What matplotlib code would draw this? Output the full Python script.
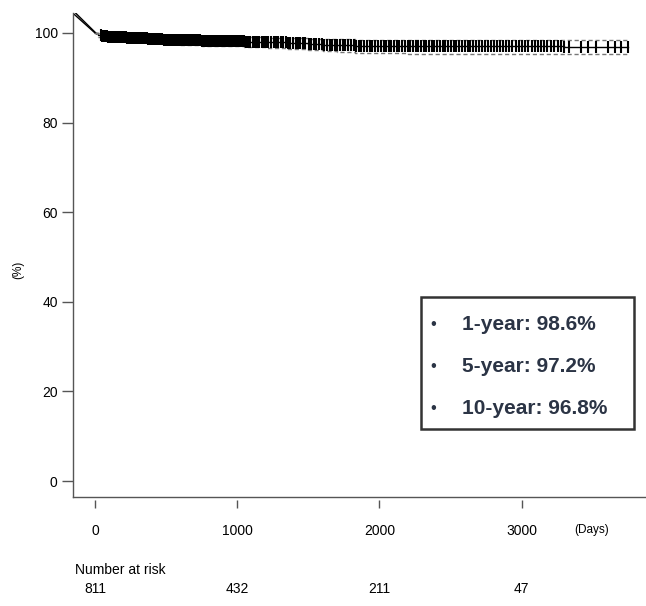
import numpy as np
import matplotlib
matplotlib.use("Agg")
import matplotlib.pyplot as plt
from matplotlib.patches import Rectangle
import matplotlib.transforms as mtransforms

plt.rcParams["font.family"] = ["Liberation Sans", "DejaVu Sans"]

# ── Data ──────────────────────────────────
# Kaplan-Meier estimate (days, %)
km_t = [0, 20, 45, 90, 150, 220, 300, 365, 480, 600, 750, 900, 1050, 1200, 1350,
        1500, 1600, 1700, 1825, 2200, 2600, 3300, 3750]
km_s = [100, 99.6, 99.3, 99.2, 99.0, 98.9, 98.8, 98.6, 98.5, 98.4, 98.3, 98.2, 98.0,
        97.9, 97.7, 97.5, 97.4, 97.3, 97.2, 97.1, 97.0, 96.9, 96.9]
ci_lo = [100, 99.0, 98.6, 98.5, 98.3, 98.1, 98.0, 97.8, 97.6, 97.4, 97.2, 97.0, 96.8,
         96.6, 96.4, 96.2, 96.0, 95.8, 95.5, 95.4, 95.3, 95.2, 95.2]
ci_hi = [100, 99.9, 99.8, 99.7, 99.6, 99.5, 99.4, 99.3, 99.3, 99.2, 99.1, 99.1, 99.0,
         98.9, 98.8, 98.7, 98.6, 98.6, 98.5, 98.5, 98.4, 98.4, 98.4]

# initial segment drawn from the top of the axis
lead_t = [-155, 0]
lead_s = [104.4, 100.0]
lead2_t = [-135, 12]
lead2_s = [104.4, 99.8]

censor_t = [
    42, 48, 55, 61, 66, 73, 79, 86, 92, 97, 104, 111, 117, 124, 130, 137, 143, 150,
    157, 163, 170, 176, 183, 190, 196, 203, 210, 216, 223, 229, 236, 243, 249, 256,
    262, 270, 277, 283, 290, 298, 305, 311, 318, 326, 333, 340, 347, 355, 362, 370,
    378, 386, 393, 401, 409, 417, 425, 433, 441, 450, 458, 466, 474, 483, 491, 500,
    509, 517, 526, 535, 544, 553, 562, 571, 580, 590, 599, 608, 618, 628, 637, 647,
    657, 667, 677, 687, 698, 708, 719, 730, 741, 752, 763, 774, 786, 797, 809, 821,
    833, 845, 857, 870, 882, 895, 908, 921, 934, 948, 962, 976, 990,
    1004, 1018, 1031, 1045, 1060, 1074, 1089, 1110, 1124, 1139, 1153, 1175, 1190,
    1204, 1219, 1240, 1256, 1271, 1290, 1305, 1322, 1340, 1355, 1372, 1391, 1410,
    1426, 1445, 1463, 1480, 1502, 1520, 1538, 1556, 1575, 1593, 1612, 1630, 1650,
    1668, 1686, 1705, 1724, 1742, 1760, 1780, 1800, 1818, 1836, 1855, 1874, 1893,
    1912, 1931, 1950, 1970, 1990,
    2010, 2030, 2048, 2066, 2085, 2104, 2122, 2140, 2160, 2180, 2198, 2216, 2236,
    2255, 2274, 2293, 2312, 2330, 2350, 2368, 2386, 2405, 2425, 2445, 2464, 2483,
    2502, 2522, 2541, 2560, 2580, 2600, 2620, 2640, 2660, 2680, 2700, 2720, 2740,
    2762, 2784, 2805, 2826, 2848, 2870, 2892, 2914, 2936, 2958, 2980, 3002, 3025,
    3048, 3070, 3092, 3115, 3138, 3160, 3182, 3205, 3230, 3255, 3280, 3300,
    3330, 3415, 3470, 3520, 3605, 3660, 3700, 3745,
]

x_ticks = [0, 1000, 2000, 3000]
y_ticks = [0, 20, 40, 60, 80, 100]
risk_n = [811, 432, 211, 47]
summary = ["1-year: 98.6%", "5-year: 97.2%", "10-year: 96.8%"]

# ── Figure ────────────────────────────────
W, H = 646, 606
fig = plt.figure(figsize=(W / 100, H / 100), dpi=100, facecolor="white")
ax = fig.add_axes([73 / W, 1 - 497 / H, 1 - 73 / W, (497 - 13) / H])

ax.set_xlim(-155, 3875)
ax.set_ylim(-3.57, 104.46)
for s in ["top", "right"]:
    ax.spines[s].set_visible(False)
for s in ["left", "bottom"]:
    ax.spines[s].set_color("#555555")
    ax.spines[s].set_linewidth(1.0)

# curves
ax.plot(lead_t, lead_s, color="black", lw=1.0)
ax.plot(lead2_t, lead2_s, color="black", lw=1.0)
ax.step(km_t, km_s, where="post", color="black", lw=1.0)
ax.step(km_t, ci_lo, where="post", color="#777777", lw=1.0, dashes=(3, 2))
ax.step(km_t, ci_hi, where="post", color="#777777", lw=1.0, dashes=(3, 2))

idx = np.searchsorted(km_t, censor_t, side="right") - 1
cens_s = np.array(km_s)[idx]
ax.plot(censor_t, cens_s, ls="none", marker="|", ms=8, mew=1.5, color="black")

# y axis
ax.set_yticks(y_ticks)
ax.tick_params(axis="y", length=8, width=1, color="#555555", labelsize=10, pad=3)

# x axis: ticks drawn slightly below the axis line
ax.tick_params(axis="x", length=0, labelbottom=False)
sec = ax.secondary_xaxis(-0.007)
sec.spines["bottom"].set_visible(False)
sec.set_xticks(x_ticks)
sec.tick_params(length=6, width=1, color="#555555", labelsize=10, pad=11)

fig.text(18 / W, 1 - 270 / H, "(%)", rotation=90, ha="center", va="center", fontsize=8.5)
fig.text(592 / W, 1 - 530 / H, "(Days)", ha="center", va="center", fontsize=8.5)
fig.text(75 / W, 1 - 570 / H, "Number at risk", ha="left", va="center", fontsize=10)

trans = mtransforms.blended_transform_factory(ax.transData, fig.transFigure)
for xt, n in zip(x_ticks, risk_n):
    ax.text(xt, 1 - 589 / H, str(n), transform=trans, ha="center", va="center",
            fontsize=10, clip_on=False)

# summary box
box = Rectangle((421 / W, 1 - 429 / H), (634 - 421) / W, (429 - 297) / H,
                transform=fig.transFigure, facecolor="white", edgecolor="#333333",
                lw=1.8, zorder=5)
fig.patches.append(box)
row_y = [325, 367, 408]
for yy, txt in zip(row_y, summary):
    fig.text(433 / W, 1 - yy / H, "•", ha="center", va="center", fontsize=12,
             color="#2b3445", zorder=6)
    fig.text(462 / W, 1 - yy / H, txt, ha="left", va="center", fontsize=15,
             fontweight="bold", color="#2b3445", zorder=6)

fig.savefig("out.png", dpi=100, facecolor="white")
